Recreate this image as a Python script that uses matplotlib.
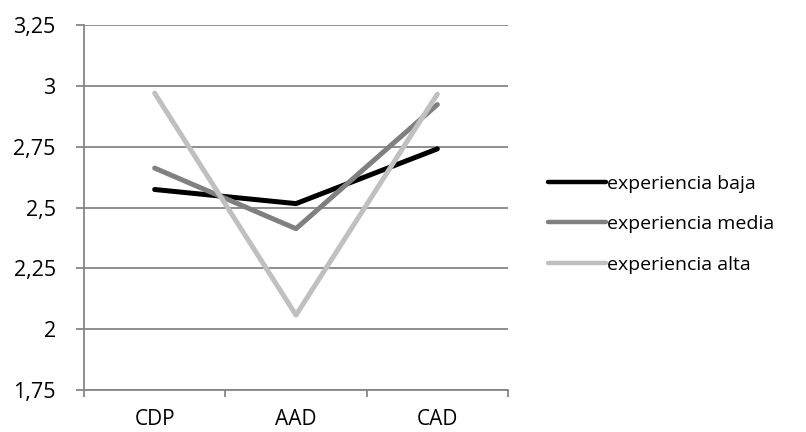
# -*- coding: UTF-8 -*-
import matplotlib
matplotlib.use("Agg")
import matplotlib.pyplot as plt
from matplotlib.ticker import FuncFormatter

categorias = ["CDP", "AAD", "CAD"]
exp_baja = [2.574, 2.516, 2.741]
exp_media = [2.662, 2.413, 2.923]
exp_alta = [2.970, 2.058, 2.966]
yticks = [1.75, 2, 2.25, 2.5, 2.75, 3, 3.25]

plt.rcParams['font.family'] = ['Open Sans', 'DejaVu Sans']
gris = '#868686'
fs = 14

fig = plt.figure(figsize=(8.06, 4.32), dpi=100)
ax = fig.add_axes([0.1042, 0.0972, 0.5261, 0.8449])

x = range(len(categorias))
ax.plot(x, exp_baja, color='#000000', lw=3.6, solid_capstyle='round', label='experiencia baja')
ax.plot(x, exp_media, color='#808080', lw=3.6, solid_capstyle='round', label='experiencia media')
ax.plot(x, exp_alta, color='#c0c0c0', lw=3.6, solid_capstyle='round', label='experiencia alta')

# ejes y rejilla
ax.set_xlim(-0.5, 2.5)
ax.set_ylim(1.75, 3.25)
ax.set_yticks(yticks)
ax.yaxis.set_major_formatter(FuncFormatter(lambda v, p: ('%g' % v).replace('.', ',')))
ax.set_xticks(list(x))
ax.set_xticklabels(categorias)
ax.set_xticks([-0.5, 0.5, 1.5, 2.5], minor=True)
ax.grid(True, axis='y', color=gris, lw=1.3)
ax.set_axisbelow(True)
for s in ['top', 'right']:
    ax.spines[s].set_visible(False)
for s in ['left', 'bottom']:
    ax.spines[s].set_color(gris)
    ax.spines[s].set_linewidth(1.3)
ax.tick_params(axis='y', length=5.8, width=1.3, color=gris, pad=14.5, labelsize=15.5)
ax.tick_params(axis='x', which='major', length=0, pad=14, labelsize=15)
ax.tick_params(axis='x', which='minor', length=5, width=1.3, color=gris)

# leyenda
leg = fig.legend(loc='center left', bbox_to_anchor=(0.680, 0.481), frameon=False,
                 fontsize=fs, handlelength=3.0, handletextpad=0.02, labelspacing=1.15,
                 borderaxespad=0, borderpad=0)
for h in leg.get_lines():
    h.set_linewidth(3.2)

plt.savefig('out.png', dpi=100)
